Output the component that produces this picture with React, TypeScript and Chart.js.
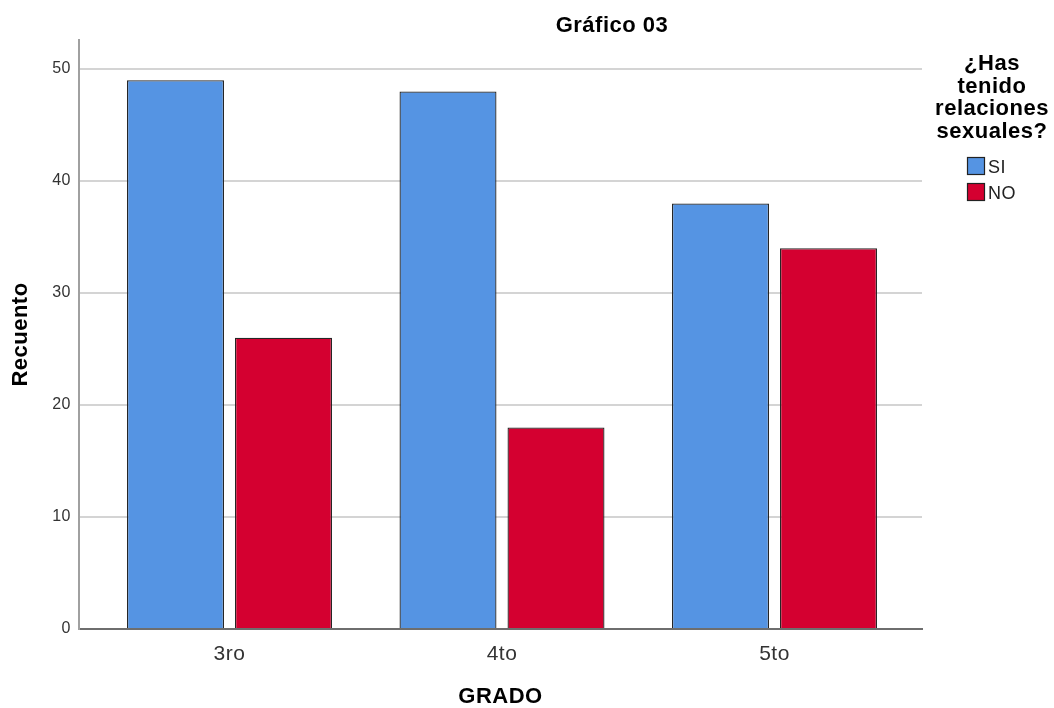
import React, { useEffect, useRef } from "react";
import { Chart, registerables } from "chart.js";

Chart.register(...registerables);

const categories = ["3ro", "4to", "5to"];
const seriesNames = ["SI", "NO"];
const siValues = [49, 48, 38];
const noValues = [26, 18, 34];
const yTickValues = [0, 10, 20, 30, 40, 50];
const chartTitle = "Gráfico 03";
const legendTitleLines = ["¿Has", "tenido", "relaciones", "sexuales?"];
const xAxisTitle = "GRADO";
const yAxisTitle = "Recuento";

const seriesColors = ["#5594E3", "#D40030"];
const FONT = "'Liberation Sans', Arial, sans-serif";

const spacingPlugin = {
  id: "spacing",
  beforeDraw(chart: any) {
    (chart.ctx as any).letterSpacing = "0.5px";
  },
  afterDraw(chart: any) {
    (chart.ctx as any).letterSpacing = "0px";
  },
};

const overlayPlugin = {
  id: "overlay",
  afterDraw(chart: any) {
    const ctx = chart.ctx as CanvasRenderingContext2D;
    ctx.save();
    (ctx as any).letterSpacing = "0.5px";
    // chart title
    ctx.fillStyle = "#000";
    ctx.font = `bold 22px ${FONT}`;
    ctx.textAlign = "center";
    ctx.textBaseline = "alphabetic";
    ctx.fillText(chartTitle, 612, 32);
    // legend title
    ctx.font = `bold 22px ${FONT}`;
    legendTitleLines.forEach((line, i) => {
      ctx.fillText(line, 992, 70 + i * 22.6);
    });
    // legend items
    ctx.textAlign = "left";
    ctx.font = `18px ${FONT}`;
    seriesNames.forEach((name, i) => {
      const y = 157 + i * 26;
      ctx.fillStyle = seriesColors[i];
      ctx.fillRect(967, y, 18, 18);
      ctx.strokeStyle = "#222";
      ctx.lineWidth = 1.2;
      ctx.strokeRect(967.5, y + 0.5, 17, 17);
      ctx.fillStyle = "#222";
      ctx.fillText(name, 988, y + 16);
    });
    ctx.restore();
  },
};

export default function App() {
  const ref = useRef<HTMLCanvasElement | null>(null);
  useEffect(() => {
    document.body.style.margin = "0";
    const canvas = ref.current!;
    const chart = new Chart(canvas, {
      type: "bar",
      data: {
        datasets: [
          {
            label: seriesNames[0],
            data: siValues.map((v, i) => ({ x: i, y: v })),
            backgroundColor: seriesColors[0],
            borderColor: "#262626",
            borderWidth: 1.3,
          },
          {
            label: seriesNames[1],
            data: noValues.map((v, i) => ({ x: i, y: v })),
            backgroundColor: seriesColors[1],
            borderColor: "#262626",
            borderWidth: 1.3,
          },
        ],
      },
      options: {
        animation: false,
        responsive: false,
        maintainAspectRatio: false,
        categoryPercentage: 216 / 272.5,
        barPercentage: 97 / 108,
        layout: { padding: { top: 40, right: 132, bottom: 0, left: 0 } },
        plugins: {
          legend: { display: false },
          title: { display: false },
          tooltip: { enabled: false },
        },
        scales: {
          x: {
            type: "linear",
            offset: false,
            min: -0.5523,
            max: 2.5413,
            afterBuildTicks: (s: any) => {
              s.ticks = categories.map((_, i) => ({ value: i }));
            },
            afterFit: (s: any) => {
              s.height = 79;
            },
            grid: { display: false, drawTicks: false, offset: false },
            border: { display: true, color: "#6e6e6e", width: 2 },
            ticks: {
              autoSkip: false,
              maxRotation: 0,
              padding: 13,
              color: "#333",
              font: { family: FONT, size: 21 },
              callback: (v: any) => categories[Math.round(Number(v))] ?? "",
            },
            title: {
              display: true,
              text: xAxisTitle,
              color: "#000",
              padding: { top: 0, bottom: 0 },
              font: { family: FONT, size: 22, weight: "bold", lineHeight: 1 },
            },
          },
          y: {
            min: 0,
            max: 52.59,
            afterBuildTicks: (s: any) => {
              s.ticks = yTickValues.map((v) => ({ value: v }));
            },
            afterFit: (s: any) => {
              s.width = 79;
            },
            grid: { color: "#d4d4d4", lineWidth: 2, drawTicks: false },
            border: { display: true, color: "#a0a0a0", width: 2 },
            ticks: {
              padding: 8,
              color: "#333",
              font: { family: FONT, size: 16 },
            },
            title: {
              display: true,
              text: yAxisTitle,
              color: "#000",
              padding: { top: 10, bottom: 0 },
              font: { family: FONT, size: 22, weight: "bold", lineHeight: 1 },
            },
          },
        },
      } as any,
      plugins: [spacingPlugin, overlayPlugin],
    });
    return () => chart.destroy();
  }, []);
  return (
    <canvas
      ref={ref}
      width={1054}
      height={708}
      style={{ display: "block", width: 1054, height: 708, background: "#fff" }}
    />
  );
}
